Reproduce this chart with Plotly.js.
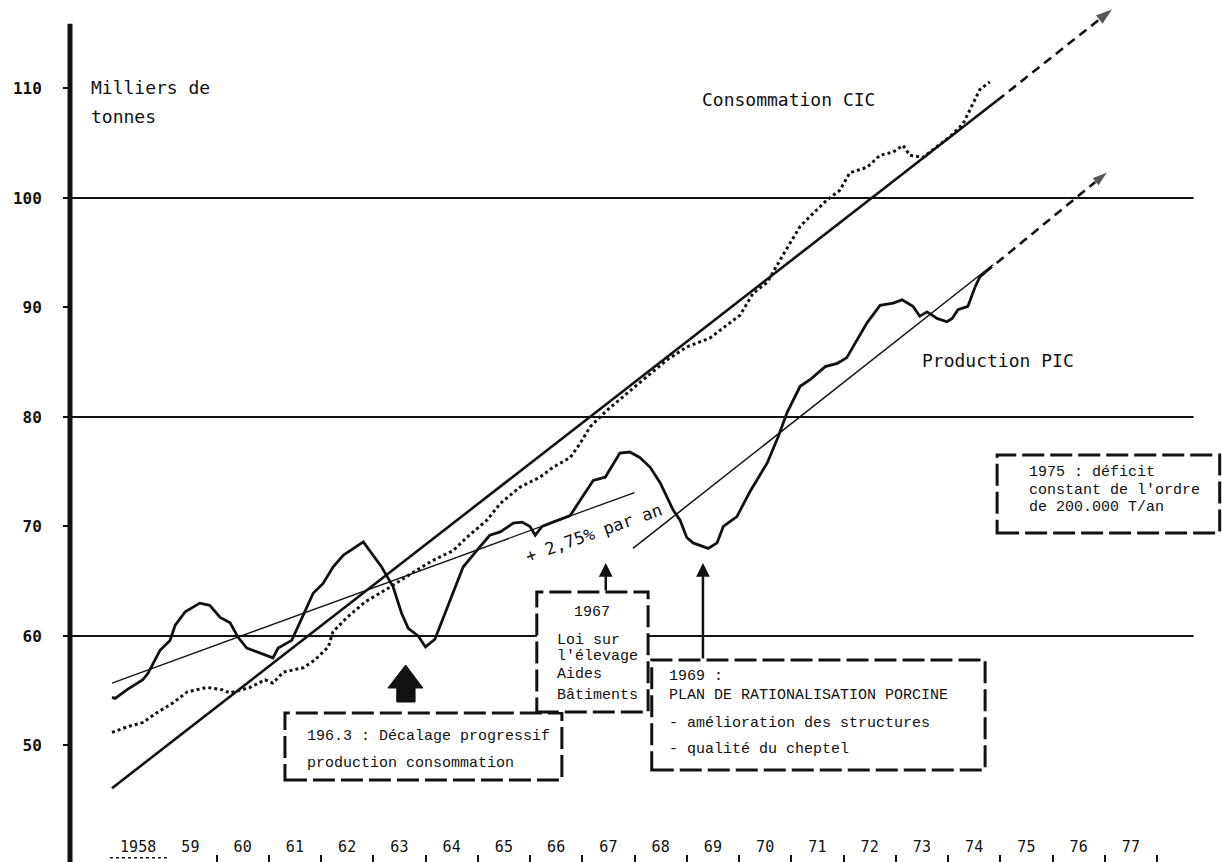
<!DOCTYPE html>
<html>
<head>
<meta charset="utf-8">
<script src="https://cdn.plot.ly/plotly-3.0.1.min.js"></script>
<style>html,body{margin:0;padding:0;background:#fff;}#chart{width:1222px;height:862px;}</style>
</head>
<body>
<div id="chart"></div>
<script>
// ---- Data ----
const yearLabels = ['1958','59','60','61','62','63','64','65','66','67','68','69','70','71','72','73','74','75','76','77'];
const labelYears = [1958.5,1959.5,1960.5,1961.5,1962.5,1963.5,1964.5,1965.5,1966.5,1967.5,1968.5,1969.5,1970.5,1971.5,1972.5,1973.5,1974.5,1975.5,1976.5,1977.5];
const yearMarks = [1960,1961,1962,1963,1964,1965,1966,1967,1968,1969,1970,1971,1972,1973,1974,1975,1976,1977,1978];
const yTicks = [50,60,70,80,90,100,110];
const gridValues = [60,80,100];

// Production PIC (solid line)
const prodYears = [1958.0,1958.06,1958.29,1958.59,1958.69,1958.92,1959.11,1959.21,1959.40,1959.68,1959.87,1960.07,1960.26,1960.41,1960.58,1960.89,1961.08,1961.18,1961.44,1961.66,1961.85,1962.04,1962.23,1962.43,1962.81,1963.16,1963.38,1963.54,1963.67,1963.86,1964.0,1964.18,1964.53,1964.72,1964.98,1965.23,1965.43,1965.68,1965.85,1966.0,1966.1,1966.23,1966.44,1966.77,1966.96,1967.21,1967.44,1967.72,1967.91,1968.1,1968.3,1968.49,1968.74,1968.87,1969.0,1969.12,1969.41,1969.58,1969.7,1969.96,1970.2,1970.54,1970.75,1970.92,1971.17,1971.36,1971.65,1971.88,1972.06,1972.25,1972.45,1972.7,1972.95,1973.12,1973.33,1973.46,1973.6,1973.79,1973.98,1974.08,1974.19,1974.38,1974.52,1974.61,1974.71];
const prodVals = [54.4,54.3,55.1,56.0,56.6,58.7,59.6,61.0,62.2,63.0,62.8,61.7,61.2,59.9,58.9,58.3,58.0,58.9,59.6,61.9,63.9,64.8,66.3,67.4,68.6,66.3,64.5,62.1,60.7,60.0,59.0,59.7,63.9,66.3,67.8,69.2,69.5,70.3,70.4,70.0,69.2,70.0,70.4,71.0,72.4,74.2,74.5,76.7,76.8,76.3,75.4,74.0,71.5,70.6,69.0,68.5,68.0,68.5,70.0,70.9,73.1,75.8,78.2,80.4,82.8,83.4,84.6,84.9,85.4,87.0,88.6,90.2,90.4,90.7,90.1,89.2,89.6,89.0,88.7,89.0,89.8,90.1,91.9,92.8,93.2];

// Consommation CIC (dotted line)
const consYears = [1958.0,1958.29,1958.59,1958.86,1959.17,1959.44,1959.82,1960.1,1960.26,1960.64,1960.93,1961.08,1961.28,1961.66,1961.88,1962.14,1962.23,1962.5,1962.84,1963.3,1963.76,1964.14,1964.53,1964.79,1965.18,1965.43,1965.81,1966.19,1966.44,1966.77,1966.96,1967.15,1967.47,1967.86,1968.24,1968.62,1969.0,1969.44,1969.77,1970.02,1970.27,1970.54,1970.88,1971.17,1971.42,1971.68,1971.93,1972.12,1972.45,1972.7,1972.95,1973.14,1973.27,1973.52,1973.79,1974.04,1974.29,1974.48,1974.61,1974.8];
const consVals = [51.2,51.7,52.1,53.0,53.9,54.9,55.3,55.1,54.8,55.3,56.0,55.7,56.7,57.1,57.8,59.0,60.4,61.7,63.1,64.4,65.8,66.9,67.8,69.0,70.6,72.1,73.6,74.5,75.4,76.3,77.6,79.1,80.6,82.2,83.7,85.2,86.4,87.2,88.4,89.3,91.3,92.3,95.1,97.4,98.6,99.8,100.7,102.3,102.8,103.9,104.2,104.8,103.9,103.7,104.7,105.6,106.8,108.7,109.9,110.6];

// Trend lines and projections
const consTrendYears = [1958.0, 1974.94];
const consTrendVals = [46.1, 108.9];
const consProjYears = [1974.94, 1977.16];
const consProjVals = [108.9, 117.3];
const prodTrend1Years = [1958.0, 1968.0];
const prodTrend1Vals = [55.7, 73.1];
const prodTrend2Years = [1967.97, 1974.86];
const prodTrend2Vals = [68.0, 93.9];
const prodProjYears = [1974.71, 1977.06];
const prodProjVals = [93.2, 102.4];

// ---- Chart ----
const INK = '#111';
const MONO = 'DejaVu Sans Mono, monospace';
const TYPE = 'Liberation Mono, Courier New, monospace';

const traces = [
  {x: prodTrend1Years, y: prodTrend1Vals, mode: 'lines', line: {color: INK, width: 1.3}, hoverinfo: 'skip'},
  {x: prodTrend2Years, y: prodTrend2Vals, mode: 'lines', line: {color: INK, width: 1.5}, hoverinfo: 'skip'},
  {x: consTrendYears, y: consTrendVals, mode: 'lines', line: {color: INK, width: 2.6}, hoverinfo: 'skip'},
  {x: consProjYears, y: consProjVals, mode: 'lines+markers', line: {color: INK, width: 2.6, dash: '9px,6px'},
   marker: {symbol: 'arrow', size: [0, 19], angleref: 'previous', color: INK}, cliponaxis: false, hoverinfo: 'skip'},
  {x: prodProjYears, y: prodProjVals, mode: 'lines+markers', line: {color: INK, width: 2.6, dash: '9px,6px'},
   marker: {symbol: 'arrow', size: [0, 17], angleref: 'previous', color: INK}, cliponaxis: false, hoverinfo: 'skip'},
  {x: prodYears, y: prodVals, mode: 'lines', line: {color: INK, width: 2.8}, name: 'Production PIC'},
  {x: consYears, y: consVals, mode: 'lines', line: {color: INK, width: 3, dash: '3px,3px'}, name: 'Consommation CIC'}
];

const shapes = [];
gridValues.forEach(v => shapes.push({type: 'line', xref: 'x', yref: 'y', x0: 1957.2, x1: 1978.7, y0: v, y1: v,
  line: {color: INK, width: 2}, layer: 'below'}));
// y axis line
shapes.push({type: 'line', xref: 'paper', yref: 'y', x0: 0, x1: 0, y0: 39.36, y1: 115.9, line: {color: INK, width: 5}});
// dotted underline under 1958
shapes.push({type: 'line', xref: 'x', yref: 'y', x0: 1957.96, x1: 1959.05, y0: 39.75, y1: 39.75, line: {color: INK, width: 1.5, dash: 'dot'}});
// dashed boxes
const boxes = [
  [1961.31, 1966.61, 46.85, 52.97],
  [1966.13, 1968.26, 53.06, 64.02],
  [1968.33, 1974.71, 47.76, 57.81],
  [1974.94, 1979.2, 69.41, 76.53]
];
boxes.forEach(b => shapes.push({type: 'rect', xref: 'x', yref: 'y', x0: b[0], x1: b[1], y0: b[2], y1: b[3],
  fillcolor: '#fff', line: {color: INK, width: 3, dash: '22px,6px'}, layer: 'above'}));
// big black arrow (1963)
shapes.push({type: 'path', xref: 'x', yref: 'y',
  path: 'M1963.45,53.97 L1963.45,55.25 L1963.28,55.25 L1963.62,57.35 L1963.95,55.25 L1963.80,55.25 L1963.80,53.97 Z',
  fillcolor: INK, line: {color: INK, width: 1}, layer: 'above'});

function txt(x, y, text, size, font, opts) {
  return Object.assign({x: x, y: y, xref: 'x', yref: 'y', text: text, showarrow: false, xanchor: 'left', yanchor: 'middle',
    font: {family: font, size: size, color: INK}}, opts || {});
}

const annotations = [
  txt(1957.56, 110.05, 'Milliers de', 18, MONO),
  txt(1957.56, 107.4, 'tonnes', 18, MONO),
  txt(1969.25, 108.95, 'Consommation CIC', 18, MONO),
  txt(1973.46, 85.2, 'Production PIC', 18, MONO),
  txt(1967.21, 69.45, '+ 2,75% par an', 17, MONO, {xanchor: 'center', textangle: -19.5}),
  txt(1961.69, 50.78, '196.3 : Décalage progressif', 15, TYPE),
  txt(1961.69, 48.4, 'production consommation', 15, TYPE),
  txt(1967.19, 62.1, '1967', 15, TYPE, {xanchor: 'center'}),
  txt(1966.48, 59.63, 'Loi sur', 15, TYPE),
  txt(1966.48, 58.17, "l'élevage", 15, TYPE),
  txt(1966.48, 56.44, 'Aides', 15, TYPE),
  txt(1966.48, 54.61, 'Bâtiments', 15, TYPE),
  txt(1968.62, 56.26, '1969 :', 15, TYPE),
  txt(1968.62, 54.61, 'PLAN DE RATIONALISATION PORCINE', 15, TYPE),
  txt(1968.62, 52.05, '- amélioration des structures', 15, TYPE),
  txt(1968.62, 49.59, '- qualité du cheptel', 15, TYPE),
  txt(1975.51, 74.89, '1975 : déficit', 15, TYPE),
  txt(1975.51, 73.33, "constant de l'ordre", 15, TYPE),
  txt(1975.51, 71.69, 'de 200.000 T/an', 15, TYPE),
  {x: 1967.45, y: 66.67, xref: 'x', yref: 'y', ax: 1967.45, ay: 64.02, axref: 'x', ayref: 'y', text: '', showarrow: true,
   arrowhead: 2, arrowwidth: 2.5, arrowsize: 1.1, arrowcolor: INK},
  {x: 1969.31, y: 66.67, xref: 'x', yref: 'y', ax: 1969.31, ay: 57.81, axref: 'x', ayref: 'y', text: '', showarrow: true,
   arrowhead: 2, arrowwidth: 2.5, arrowsize: 1.1, arrowcolor: INK}
];

const layout = {
  width: 1222, height: 862,
  margin: {l: 70, r: 0, t: 0, b: 0},
  paper_bgcolor: '#fff', plot_bgcolor: '#fff',
  showlegend: false,
  xaxis: {
    range: [1957.196, 1979.244], showgrid: false, zeroline: false, showline: false,
    tickvals: labelYears, ticktext: yearLabels, ticks: '', ticklabelposition: 'inside',
    ticklabelstandoff: 4,
    tickfont: {family: MONO, size: 15, color: INK},
    minor: {tickvals: yearMarks, ticks: 'inside', ticklen: 7, tickwidth: 2, tickcolor: INK, showgrid: false}
  },
  yaxis: {
    range: [39.36, 118.08], showgrid: false, zeroline: false, showline: false,
    tickvals: yTicks, ticks: 'outside', ticklen: 6, tickwidth: 2, tickcolor: INK,
    ticklabelstandoff: 18,
    tickfont: {family: MONO, size: 16, color: INK, weight: 'bold'}
  },
  shapes: shapes,
  annotations: annotations
};

Plotly.newPlot('chart', traces, layout, {staticPlot: true});
</script>
</body>
</html>
